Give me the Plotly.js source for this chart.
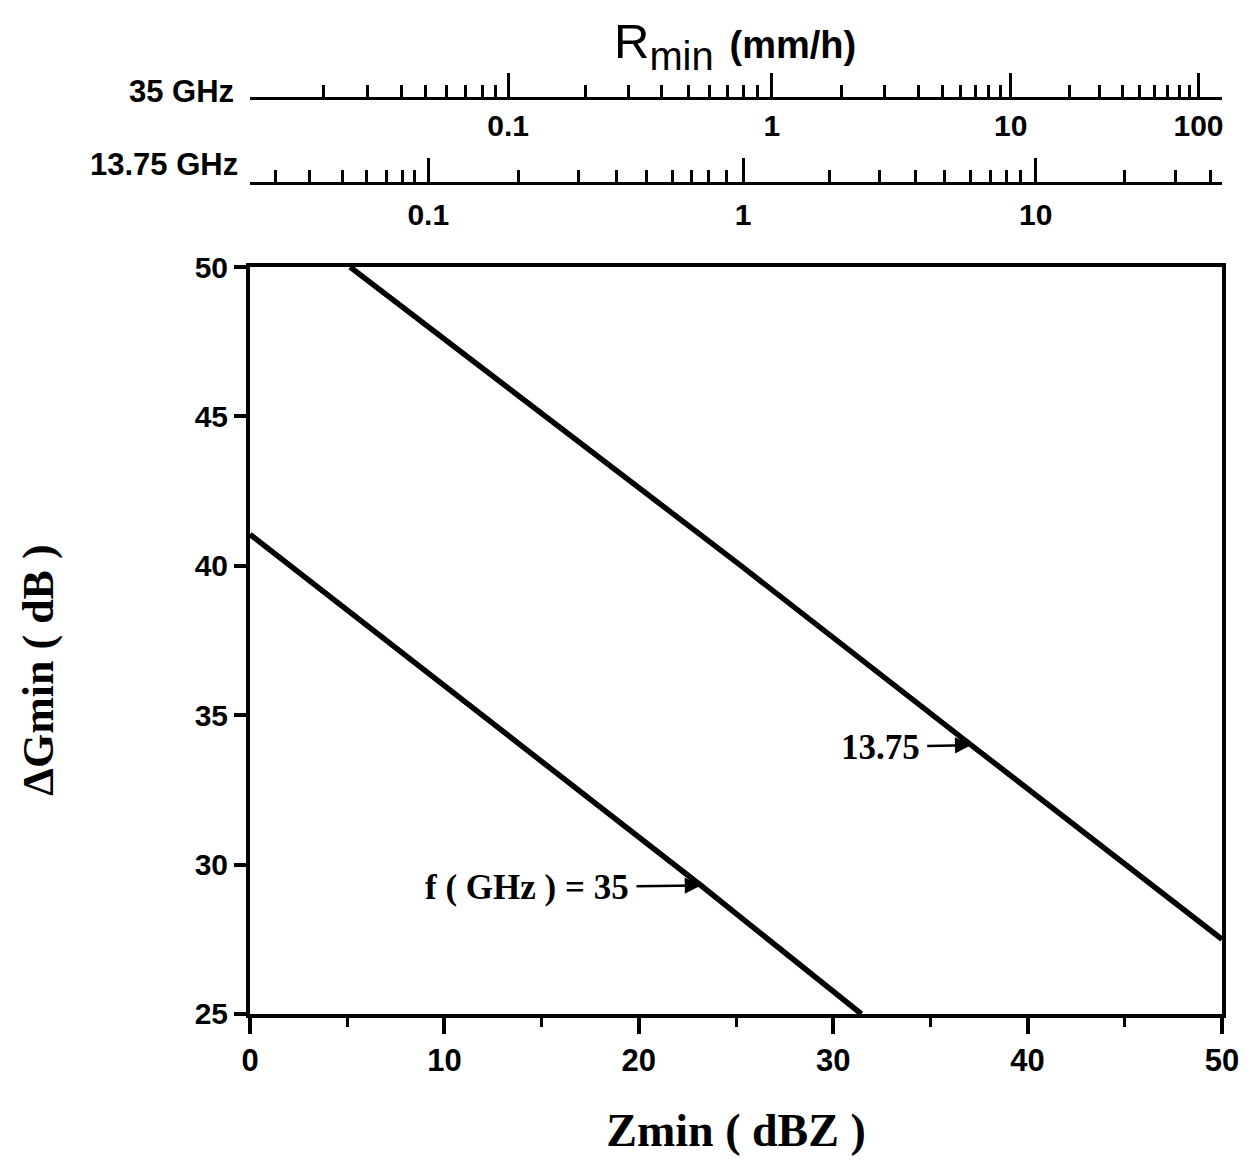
<!DOCTYPE html>
<html>
<head>
<meta charset="utf-8">
<script src="https://cdn.plot.ly/plotly-3.0.1.min.js"></script>
<style>html,body{margin:0;padding:0;background:#fff;}#chart{width:1253px;height:1175px;}</style>
</head>
<body>
<div id="chart"></div>
<script>
// ---- Data ----
// Curves: ΔGmin (dB) versus Zmin (dBZ)
const zmin35   = [0, 15, 23.2, 31.45];
const dgmin35  = [41.05, 33.45, 29.3, 25];
const zmin1375 = [5.15, 15, 25.2, 37.1, 50];
const dgmin1375= [50, 45.1, 40.03, 34.0, 27.5];

// Rmin scale for 35 GHz: rain rate values and the Zmin (dBZ) they sit at
const r35Major  = [0.1, 1, 10, 100];
const r35MajorZ = [13.28, 26.85, 39.13, 48.79];
const r35Minor  = [0.02,0.03,0.04,0.05,0.06,0.07,0.08,0.09,
                   0.2,0.3,0.4,0.5,0.6,0.7,0.8,0.9,
                   2,3,4,5,6,7,8,9,
                   20,30,40,50,60,70,80,90];
const r35MinorZ = [3.78,6.04,7.79,9.02,10.10,11.07,11.95,12.62,
                   17.24,19.45,21.15,22.58,23.66,24.54,25.36,26.13,
                   30.45,32.66,34.40,35.64,36.56,37.33,38.00,38.62,
                   42.16,43.71,44.89,45.76,46.53,47.20,47.82,48.33];

// Rmin scale for 13.75 GHz
const r1375Major  = [0.1, 1, 10];
const r1375MajorZ = [9.17, 25.36, 40.42];
const r1375Minor  = [0.03,0.04,0.05,0.06,0.07,0.08,0.09,
                     0.2,0.3,0.4,0.5,0.6,0.7,0.8,0.9,
                     2,3,4,5,6,7,8,9,
                     20,30,40];
const r1375MinorZ = [1.31,3.06,4.75,5.99,7.01,7.84,8.45,
                     13.80,16.88,18.83,20.38,21.71,22.69,23.61,24.49,
                     29.83,32.40,34.25,35.74,37.08,38.10,38.93,39.65,
                     44.99,47.61,49.41];

const xTicks = [0, 10, 20, 30, 40, 50];
const yTicks = [25, 30, 35, 40, 45, 50];

// ---- Styling ----
const SANS = 'Liberation Sans, Arial, sans-serif';
const SERIF = 'Liberation Serif, Times New Roman, serif';
const black = '#000';

const traces = [
  {x: zmin35, y: dgmin35, mode: 'lines', line: {color: black, width: 5.5}, name: '35 GHz', showlegend: false, hoverinfo: 'skip'},
  {x: zmin1375, y: dgmin1375, mode: 'lines', line: {color: black, width: 5.5}, name: '13.75 GHz', showlegend: false, hoverinfo: 'skip'},
  // carriers for the two Rmin scales
  {x: [0, 50], y: [25, 25], xaxis: 'x2', yaxis: 'y', mode: 'none', showlegend: false, hoverinfo: 'skip'},
  {x: [0, 50], y: [25, 25], xaxis: 'x3', yaxis: 'y', mode: 'none', showlegend: false, hoverinfo: 'skip'}
];

const rAxisCommon = {
  overlaying: 'x', anchor: 'free', side: 'bottom', range: [0, 50],
  showgrid: false, zeroline: false, showline: true, linecolor: black, linewidth: 3,
  tickmode: 'array', ticks: 'inside', ticklen: 24, tickwidth: 3, tickcolor: black,
  tickfont: {family: SANS, size: 30, color: black, weight: 'bold'},
  fixedrange: true
};

const layout = {
  width: 1253, height: 1175,
  paper_bgcolor: '#fff', plot_bgcolor: '#fff',
  margin: {l: 249.5, r: 30.5, t: 60, b: 161},
  showlegend: false,
  xaxis: {
    range: [0, 50], tickmode: 'array', tickvals: xTicks, ticktext: xTicks.map(String),
    showgrid: false, zeroline: false, showline: true, mirror: true, linecolor: black, linewidth: 4,
    ticks: 'outside', ticklen: 16, tickwidth: 4, tickcolor: black,
    minor: {dtick: 5, tick0: 5, ticks: 'outside', ticklen: 9, tickwidth: 3, tickcolor: black, showgrid: false},
    tickfont: {family: SANS, size: 31, color: black, weight: 'bold'},
    title: {text: 'Zmin ( dBZ )', font: {family: SERIF, size: 46, color: black, weight: 'bold'}, standoff: 38},
    automargin: false, fixedrange: true
  },
  yaxis: {
    range: [25, 50], domain: [0, 0.783], tickmode: 'array', tickvals: yTicks, ticktext: yTicks.map(String),
    showgrid: false, zeroline: false, showline: true, mirror: true, linecolor: black, linewidth: 4,
    ticks: 'outside', ticklen: 12, tickwidth: 4, tickcolor: black,
    tickfont: {family: SANS, size: 30, color: black, weight: 'bold'},
    automargin: false, fixedrange: true
  },
  xaxis2: Object.assign({}, rAxisCommon, {
    position: 0.9602,
    tickvals: r35MajorZ, ticktext: r35Major.map(String),
    minor: {tickmode: 'array', tickvals: r35MinorZ, ticks: 'inside', ticklen: 12, tickwidth: 3, tickcolor: black, showgrid: false}
  }),
  xaxis3: Object.assign({}, rAxisCommon, {
    position: 0.8711, ticklabelstandoff: 4,
    tickvals: r1375MajorZ, ticktext: r1375Major.map(String),
    minor: {tickmode: 'array', tickvals: r1375MinorZ, ticks: 'inside', ticklen: 12, tickwidth: 3, tickcolor: black, showgrid: false}
  }),
  annotations: [
    // top title of the Rmin scales
    {xref: 'paper', yref: 'paper', x: 0.4985, y: 1.019, xanchor: 'center', yanchor: 'middle', showarrow: false,
     text: '<span style="font-size:49px">R</span><sub>min</sub> <span style="font-size:38px;font-weight:bold">(mm/h)</span>',
     font: {family: SANS, size: 57, color: black}},
    // y axis title
    {xref: 'paper', yref: 'paper', x: -0.2174, y: 0.3606, xanchor: 'center', yanchor: 'middle', showarrow: false,
     textangle: -90, text: 'ΔGmin ( dB )', font: {family: SERIF, size: 44, color: black, weight: 'bold'}},
    {xref: 'paper', yref: 'paper', x: -0.0149, y: 0.9665, xanchor: 'right', yanchor: 'middle', showarrow: false,
     text: '35 GHz', font: {family: SANS, size: 31, color: black, weight: 'bold'}},
    {xref: 'paper', yref: 'paper', x: -0.0098, y: 0.890, xanchor: 'right', yanchor: 'middle', showarrow: false,
     text: '13.75 GHz', font: {family: SANS, size: 31, color: black, weight: 'bold'}},
    {x: 23.2, y: 29.3, xref: 'x', yref: 'y', text: 'f ( GHz ) = 35', showarrow: true,
     ax: -174, ay: 2, arrowhead: 2, arrowsize: 1.3, arrowwidth: 2.5, arrowcolor: black, standoff: 0, startstandoff: 6,
     font: {family: SERIF, size: 35, color: black, weight: 'bold'}},
    {x: 37.1, y: 34.0, xref: 'x', yref: 'y', text: '13.75', showarrow: true,
     ax: -91, ay: 2, arrowhead: 2, arrowsize: 1.3, arrowwidth: 2.5, arrowcolor: black, standoff: 0, startstandoff: 6,
     font: {family: SERIF, size: 35, color: black, weight: 'bold'}}
  ]
};

Plotly.newPlot('chart', traces, layout, {staticPlot: true, displayModeBar: false});
</script>
</body>
</html>
